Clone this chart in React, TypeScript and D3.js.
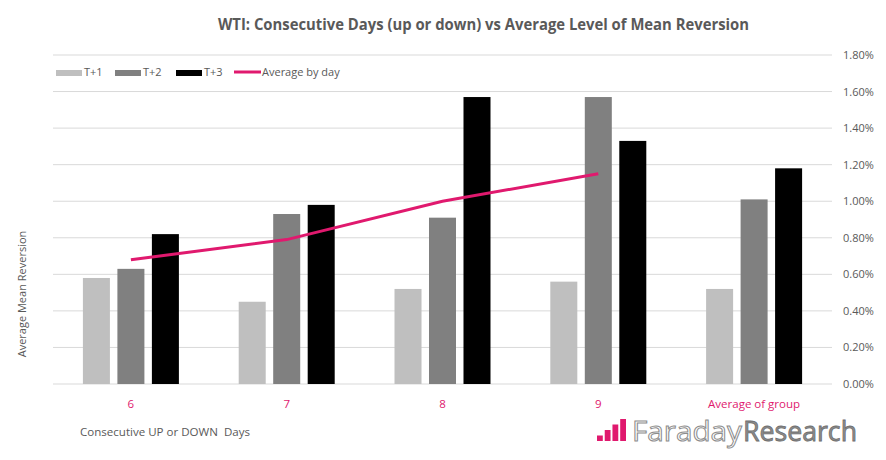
import React from "react";
import * as d3 from "d3";

const categories = ["6", "7", "8", "9", "Average of group"];
const seriesNames = ["T+1", "T+2", "T+3"];
const t1 = [0.58, 0.45, 0.52, 0.56, 0.52];
const t2 = [0.63, 0.93, 0.91, 1.57, 1.01];
const t3 = [0.82, 0.98, 1.57, 1.33, 1.18];
const avgByDay = [0.68, 0.79, 1.0, 1.15];
const yTicks = [0, 0.2, 0.4, 0.6, 0.8, 1.0, 1.2, 1.4, 1.6, 1.8];
const seriesColors = ["#BFBFBF", "#808080", "#000000"];
const logoBars = [1, 2, 3, 4];

const W = 886;
const H = 460;
const left = 53;
const right = 832;
const top = 55;
const bottom = 384;
const font = "'Open Sans', 'Segoe UI', sans-serif";
const textCol = "#595959";
const pink = "#E0196E";

export default function App() {
  const x = d3.scaleBand<string>().domain(categories).range([left, right]).padding(0);
  const xSub = d3
    .scaleBand<string>()
    .domain(seriesNames)
    .range([-51.75, 51.75])
    .paddingInner(0.217)
    .paddingOuter(0.1087);
  const y = d3.scaleLinear().domain([0, 1.8]).range([bottom, top]);
  const seriesValues = [t1, t2, t3];
  const center = (c: string) => (x(c) as number) + x.bandwidth() / 2;
  const line = d3
    .line<number>()
    .x((_, i) => center(categories[i]))
    .y((d) => y(d));

  const legendItems = [
    { label: "T+1", x: 56, color: seriesColors[0], kind: "rect" },
    { label: "T+2", x: 115, color: seriesColors[1], kind: "rect" },
    { label: "T+3", x: 176, color: seriesColors[2], kind: "rect" },
    { label: "Average by day", x: 234, color: pink, kind: "line" },
  ];

  const logoX = d3.scaleBand<number>().domain(logoBars).range([597, 626]).paddingInner(0.25);
  const logoY = d3.scaleLinear().domain([0, 4]).range([441, 419]);

  return (
    <svg width={W} height={H} style={{ display: "block", position: "absolute", left: 0, top: 0 }}>
      <rect width={W} height={H} fill="#fff" />
      <text
        x={218}
        y={30}
        fontFamily={font}
        fontWeight={700}
        fontSize={15.5}
        fill={textCol}
        textLength={531}
        lengthAdjust="spacingAndGlyphs"
      >
        WTI: Consecutive Days (up or down) vs Average Level of Mean Reversion
      </text>

      {yTicks.map((t) => (
        <g key={t}>
          <line x1={left} x2={right} y1={y(t)} y2={y(t)} stroke="#D9D9D9" strokeWidth={1} />
          <text x={843} y={y(t) + 4} fontFamily={font} fontSize={11} fill={textCol}>
            {d3.format(".2f")(t)}%
          </text>
        </g>
      ))}

      {categories.map((c, ci) => (
        <g key={c}>
          {seriesNames.map((s, si) => (
            <rect
              key={s}
              x={center(c) + (xSub(s) as number)}
              width={xSub.bandwidth()}
              y={y(seriesValues[si][ci])}
              height={bottom - y(seriesValues[si][ci])}
              fill={seriesColors[si]}
            />
          ))}
          <text
            x={center(c)}
            y={408}
            textAnchor="middle"
            fontFamily={font}
            fontSize={11.5}
            fill={pink}
          >
            {c}
          </text>
        </g>
      ))}

      <path d={line(avgByDay) || ""} fill="none" stroke={pink} strokeWidth={3} />

      {legendItems.map((it) => (
        <g key={it.label}>
          {it.kind === "rect" ? (
            <rect x={it.x} y={70} width={26} height={6} fill={it.color} />
          ) : (
            <line x1={it.x} x2={it.x + 27} y1={72} y2={72} stroke={it.color} strokeWidth={3} />
          )}
          <text x={it.x + 28} y={76} fontFamily={font} fontSize={11} fill={textCol}>
            {it.label}
          </text>
        </g>
      ))}

      <text
        transform={`translate(26, ${294}) rotate(-90)`}
        textAnchor="middle"
        fontFamily={font}
        fontSize={11}
        fill={textCol}
      >
        Average Mean Reversion
      </text>
      <text
        x={80}
        y={436}
        fontFamily={font}
        fontSize={11.5}
        fill={textCol}
        style={{ whiteSpace: "pre" }}
        textLength={170}
        lengthAdjust="spacingAndGlyphs"
      >
        {"Consecutive UP or DOWN  Days"}
      </text>

      {logoBars.map((b) => (
        <rect
          key={b}
          x={logoX(b)}
          width={logoX.bandwidth()}
          y={logoY(b)}
          height={441 - logoY(b)}
          fill={pink}
        />
      ))}
      <text
        x={632}
        y={441}
        fontFamily={font}
        fontSize={28}
        fill="#fff"
        stroke="#8C8C8C"
        strokeWidth={1}
        textLength={110}
        lengthAdjust="spacingAndGlyphs"
      >
        Faraday
      </text>
      <text
        x={743}
        y={441}
        fontFamily={font}
        fontSize={28}
        fill="#8C8C8C"
        stroke="#6E6E6E"
        strokeWidth={0.8}
        textLength={114}
        lengthAdjust="spacingAndGlyphs"
      >
        Research
      </text>
    </svg>
  );
}
